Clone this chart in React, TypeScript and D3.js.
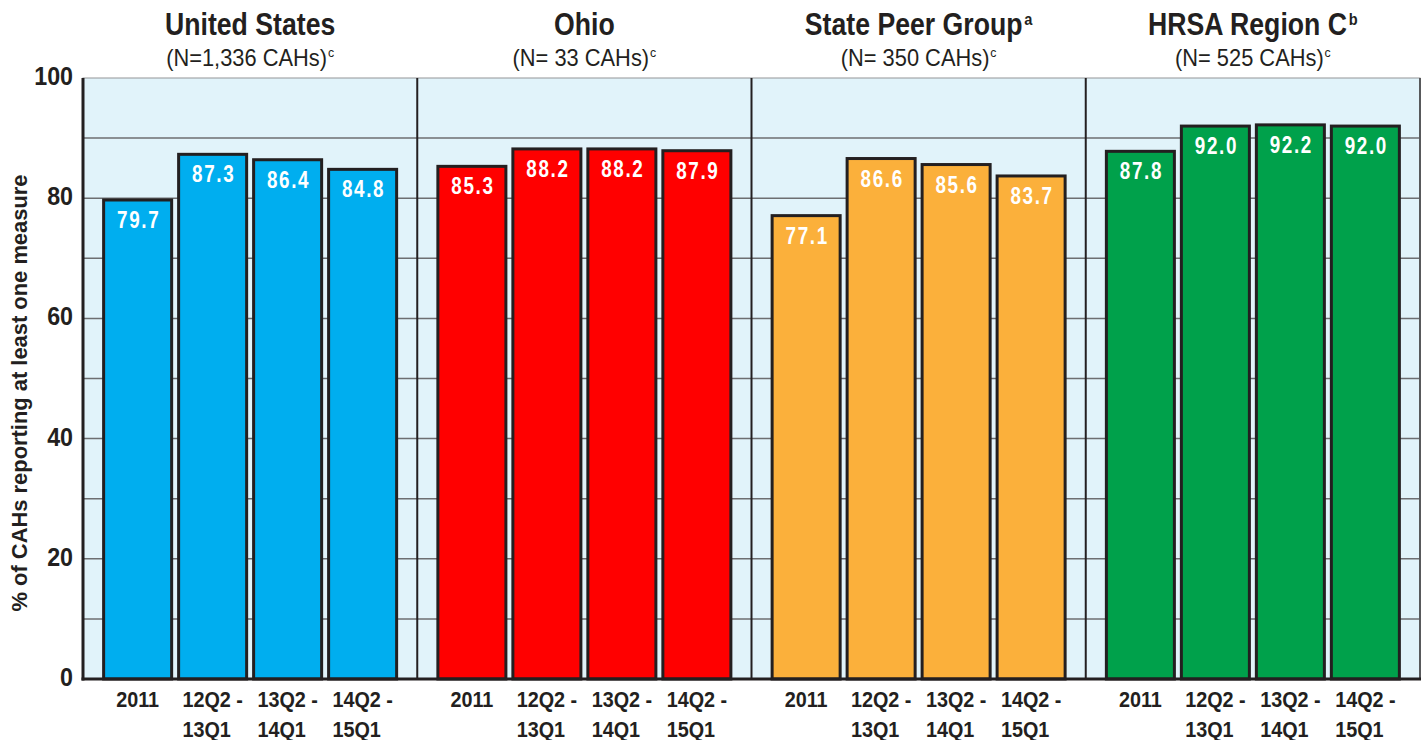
import React, { useEffect, useRef } from "react";
import * as d3 from "d3";

// groups across the top, with their N counts and superscript
const groups = ["United States", "Ohio", "State Peer Group", "HRSA Region C"];
const groupSup = ["", "", "a", "b"];
const groupN = ["(N=1,336 CAHs)", "(N= 33 CAHs)", "(N= 350 CAHs)", "(N= 525 CAHs)"];
const groupColors = ["#00aeef", "#ff0000", "#fbb03b", "#00a14b"];

// periods inside every group (two lines for the later ones)
const periods = ["2011", "12Q2 - 13Q1", "13Q2 - 14Q1", "14Q2 - 15Q1"];
const periodLines = [["2011"], ["12Q2 -", "13Q1"], ["13Q2 -", "14Q1"], ["14Q2 -", "15Q1"]];

// values, one array per group
const usValues = [79.7, 87.3, 86.4, 84.8];
const ohioValues = [85.3, 88.2, 88.2, 87.9];
const peerValues = [77.1, 86.6, 85.6, 83.7];
const hrsaValues = [87.8, 92.0, 92.2, 92.0];
const allValues = [usValues, ohioValues, peerValues, hrsaValues];

const yTicks = [0, 20, 40, 60, 80, 100];
const gridTicks = [10, 20, 30, 40, 50, 60, 70, 80, 90];

const FONT = "'Liberation Sans', Arial, sans-serif";
const INK = "#231f20";

const App = () => {
    const svgRef = useRef<SVGSVGElement>(null);

    useEffect(() => {
        document.body.style.margin = "0";

        const width = 1426;
        const height = 740;
        const plot = { left: 83, right: 1420, top: 78, bottom: 679 };

        const svg = d3.select(svgRef.current)
            .attr("width", width)
            .attr("height", height)
            .style("font-family", FONT)
            .style("display", "block");
        svg.selectAll("*").remove();

        // no condensed font installed -> squeeze text horizontally
        const squeeze = (x: number, y: number, sx: number) => `translate(${x},${y}) scale(${sx},1)`;

        // Scales
        const xGroup = d3.scaleBand()
            .domain(groups)
            .range([plot.left, plot.right]);

        const xPeriod = d3.scaleBand()
            .domain(periods)
            .range([0, xGroup.bandwidth()])
            .paddingInner(0.093)
            .paddingOuter(0.275);

        const yScale = d3.scaleLinear()
            .domain([0, 100])
            .range([plot.bottom, plot.top]);

        // background
        svg.append("rect")
            .attr("x", plot.left)
            .attr("y", plot.top)
            .attr("width", plot.right - plot.left)
            .attr("height", plot.bottom - plot.top)
            .attr("fill", "#e1f3fa")
            .attr("stroke", "#939598")
            .attr("stroke-width", 1);

        // gridlines
        svg.append("g")
            .selectAll("line")
            .data(gridTicks)
            .join("line")
            .attr("x1", plot.left)
            .attr("x2", plot.right)
            .attr("y1", d => yScale(d))
            .attr("y2", d => yScale(d))
            .attr("stroke", "#6d6e71")
            .attr("stroke-width", 1.5);

        // bars per group
        groups.forEach((g, gi) => {
            const gx = xGroup(g)!;
            const ctr = svg.append("g").attr("transform", `translate(${gx},0)`);
            const vals = allValues[gi];

            ctr.selectAll("rect")
                .data(vals)
                .join("rect")
                .attr("x", (d, i) => xPeriod(periods[i])!)
                .attr("y", d => yScale(d))
                .attr("width", xPeriod.bandwidth())
                .attr("height", d => yScale(0) - yScale(d))
                .attr("fill", groupColors[gi])
                .attr("stroke", INK)
                .attr("stroke-width", 3);

            ctr.selectAll("text.val")
                .data(vals)
                .join("text")
                .attr("class", "val")
                .attr("transform", (d, i) => squeeze(xPeriod(periods[i])! + xPeriod.bandwidth() / 2 + 1, yScale(d) + 28, 0.82))
                .attr("text-anchor", "middle")
                .attr("fill", "white")
                .attr("font-weight", "bold")
                .attr("font-size", 23)
                .attr("letter-spacing", 2)
                .text(d => d.toFixed(1));

            // x labels: first line centred, second line left aligned with first
            periodLines.forEach((lines, i) => {
                const cx = xPeriod(periods[i])! + xPeriod.bandwidth() / 2;
                const lg = ctr.append("g").attr("transform", squeeze(cx, 0, 0.9));
                const t1 = lg.append("text")
                    .attr("x", 0)
                    .attr("y", 707)
                    .attr("text-anchor", "middle")
                    .attr("font-weight", "bold")
                    .attr("font-size", 22)
                    .attr("fill", INK)
                    .text(lines[0]);
                if (lines[1]) {
                    const bb = (t1.node() as SVGTextElement).getBBox();
                    lg.append("text")
                        .attr("x", bb.x)
                        .attr("y", 737)
                        .attr("font-weight", "bold")
                        .attr("font-size", 22)
                        .attr("fill", INK)
                        .text(lines[1]);
                }
            });

            // titles
            const cx = gx + xGroup.bandwidth() / 2;
            const title = svg.append("text")
                .attr("transform", squeeze(cx, 35, 0.86))
                .attr("text-anchor", "middle")
                .attr("font-weight", "bold")
                .attr("font-size", 31)
                .attr("fill", INK)
                .text(g);
            if (groupSup[gi]) {
                title.append("tspan")
                    .attr("font-size", 17)
                    .attr("dx", 2)
                    .attr("dy", -10)
                    .text(groupSup[gi]);
            }
            svg.append("text")
                .attr("transform", squeeze(cx, 66, 0.95))
                .attr("text-anchor", "middle")
                .attr("font-size", 23)
                .attr("fill", INK)
                .text(groupN[gi])
                .append("tspan")
                .attr("font-size", 13)
                .attr("dx", 1)
                .attr("dy", -9)
                .text("c");
        });

        // dividers between groups
        svg.append("g")
            .selectAll("line")
            .data(groups.slice(1))
            .join("line")
            .attr("x1", d => xGroup(d)!)
            .attr("x2", d => xGroup(d)!)
            .attr("y1", plot.top)
            .attr("y2", plot.bottom)
            .attr("stroke", INK)
            .attr("stroke-width", 2);

        // right edge
        svg.append("line")
            .attr("x1", plot.right).attr("x2", plot.right)
            .attr("y1", plot.top).attr("y2", plot.bottom)
            .attr("stroke", "#58595b").attr("stroke-width", 2);

        // left and bottom axis lines
        svg.append("line")
            .attr("x1", plot.left).attr("x2", plot.left)
            .attr("y1", plot.top).attr("y2", plot.bottom + 1.5)
            .attr("stroke", INK).attr("stroke-width", 3);
        svg.append("line")
            .attr("x1", plot.left - 1.5).attr("x2", plot.right + 1)
            .attr("y1", plot.bottom).attr("y2", plot.bottom)
            .attr("stroke", INK).attr("stroke-width", 3);

        // y tick labels
        svg.append("g")
            .selectAll("text")
            .data(yTicks)
            .join("text")
            .attr("transform", d => squeeze(73, yScale(d) + 7, 0.93))
            .attr("text-anchor", "end")
            .attr("font-weight", "bold")
            .attr("font-size", 25)
            .attr("fill", INK)
            .text(d => d);

        // y axis title
        svg.append("text")
            .attr("transform", `translate(27, 393) rotate(-90)`)
            .attr("text-anchor", "middle")
            .attr("font-weight", "bold")
            .attr("font-size", 22)
            .attr("textLength", 437)
            .attr("lengthAdjust", "spacingAndGlyphs")
            .attr("fill", INK)
            .text("% of CAHs reporting at least one measure");
    }, []);

    return <svg ref={svgRef}></svg>;
};

export default App;
